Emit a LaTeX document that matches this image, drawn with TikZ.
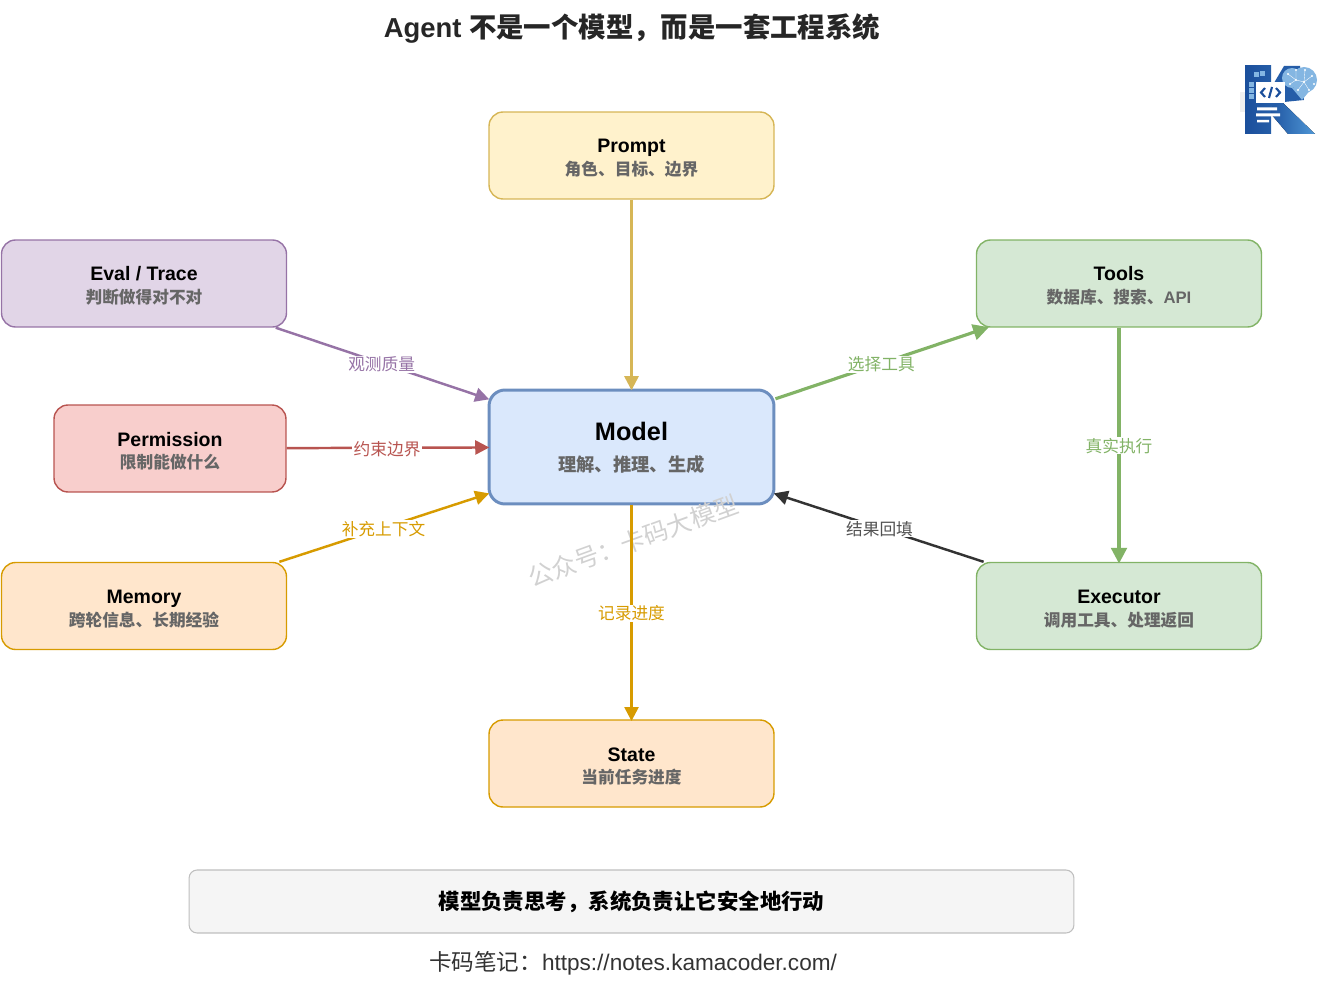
\documentclass[tikz,border=0pt]{standalone}
\usepackage{fontspec}
\setmainfont{Liberation Sans}
\newfontfamily\cjk{Noto Sans CJK SC}
\usetikzlibrary{arrows.meta}

\definecolor{bluefill}{HTML}{DAE8FC}
\definecolor{blueline}{HTML}{6C8EBF}
\definecolor{yellowfill}{HTML}{FFF2CC}
\definecolor{yellowline}{HTML}{D6B656}
\definecolor{greenfill}{HTML}{D5E8D4}
\definecolor{greenline}{HTML}{82B366}
\definecolor{purplefill}{HTML}{E1D5E7}
\definecolor{purpleline}{HTML}{9673A6}
\definecolor{redfill}{HTML}{F8CECC}
\definecolor{redline}{HTML}{B85450}
\definecolor{orangefill}{HTML}{FFE6CC}
\definecolor{orangeline}{HTML}{D79B00}
\definecolor{subtext}{HTML}{666666}
\definecolor{darkline}{HTML}{333333}
\definecolor{logodark}{HTML}{1B4F9C}
\definecolor{logolight}{HTML}{4F97D6}

\newcommand{\boxtext}[2]{{\fontsize{11.1}{13.6}\selectfont\bfseries\rule{0pt}{11pt}#1}\\[0.9pt]{\fontsize{9.5}{13.6}\selectfont\bfseries\color{subtext}#2}}

\tikzset{
  box/.style={draw, rounded corners=0.28cm, line width=0.8pt, minimum width=5.7cm, minimum height=1.74cm, align=center, inner sep=0pt},
  conn/.style={line width=1.4pt, -{Triangle[length=8pt,width=8pt]}, shorten >=-1pt},
  wide/.style={line width=1.8pt, -{Triangle[length=9pt,width=9pt]}, shorten >=-1pt},
  lab/.style={fill=white, inner xsep=1pt, inner ysep=0.5pt, yshift=-0.6pt, font=\fontsize{9.5}{11}\selectfont\cjk},
}

\begin{document}
\begin{tikzpicture}[x=0.02cm,y=-0.02cm]
\useasboundingbox (0,0) rectangle (1338,983);

\node[font=\fontsize{15.6}{18}\selectfont\bfseries, text=black!85] (title) at (632,28.5) {Agent {\cjk 不是一个模型，而是一套工程系统}};

\node[box, line width=1.7pt, minimum height=2.28cm, fill=bluefill, draw=blueline, rounded corners=0.32cm] (model) at (631.5,447)
  {{\fontsize{14.4}{19}\selectfont\bfseries\rule{0pt}{11.5pt}Model}\\[5.5pt]{\fontsize{10.4}{13}\selectfont\bfseries\cjk\color{subtext}理解、推理、生成}};
\node[box, fill=yellowfill, draw=yellowline] (prompt) at (631.5,155.5) {\boxtext{Prompt}{\cjk 角色、目标、边界}};
\node[box, fill=purplefill, draw=purpleline] (eval) at (144,283.5) {\boxtext{Eval / Trace}{\cjk 判断做得对不对}};
\node[box, minimum width=4.64cm, fill=redfill, draw=redline] (perm) at (170,448.5) {\boxtext{Permission}{\cjk 限制能做什么}};
\node[box, fill=orangefill, draw=orangeline] (memory) at (144,606) {\boxtext{Memory}{\cjk 跨轮信息、长期经验}};
\node[box, fill=greenfill, draw=greenline] (tools) at (1119,283.5) {\boxtext{Tools}{{\cjk 数据库、搜索、}API}};
\node[box, fill=greenfill, draw=greenline] (exec) at (1119,606) {\boxtext{Executor}{\cjk 调用工具、处理返回}};
\node[box, fill=orangefill, draw=orangeline] (state) at (631.5,763.5) {\boxtext{State}{\cjk 当前任务进度}};

% watermark sits over the box, under the arrows
\node[rotate=20, text=black!18, font=\fontsize{14}{16}\selectfont\cjk] (mark) at (633,541) {公众号：卡码大模型};

\draw[conn, draw=yellowline] (prompt) -- (model);
\draw[conn, draw=purpleline] (eval) -- node[lab, text=purpleline] (evallab) {观测质量} (model);
\draw[conn, draw=redline] (perm) -- node[lab, text=redline] (permlab) {约束边界} (model);
\draw[conn, draw=orangeline] (memory) -- node[lab, text=orangeline] (memlab) {补充上下文} (model);
\draw[wide, draw=greenline] (model) -- node[lab, text=greenline] (selectlab) {选择工具} (tools);
\draw[wide, draw=greenline] (tools) -- node[lab, text=greenline] (runlab) {真实执行} (exec);
\draw[conn, draw=darkline] (exec) -- node[lab, text=darkline!85] (backlab) {结果回填} (model);
\draw[conn, draw=orangeline] (model) -- node[lab, text=orangeline] (statelab) {记录进度} (state);

\node[draw=black!25, fill=black!4, rounded corners=0.16cm, line width=0.6pt, minimum width=17.7cm, minimum height=1.26cm, font=\fontsize{12.2}{14}\selectfont\bfseries\cjk] (bar) at (631.5,901.5) {模型负责思考，系统负责让它安全地行动};
\node[text=black!80, font=\fontsize{12.85}{15}\selectfont] (foot) at (633,963.5) {{\cjk 卡码笔记：}https://notes.kamacoder.com/};

% logo
\fill[black!6] (1240,92) rectangle (1245,112);
\fill[left color=logodark, right color=logodark!80!logolight] (1245,66) rectangle (1271,134);
\fill[left color=logodark!90!logolight, right color=logolight] (1271,107) -- (1281,101) -- (1315,134) -- (1288,134) -- (1271,114) -- cycle;
\fill[logodark!80!logolight] (1271,88) -- (1284,66) -- (1300,66) -- (1304,100) -- (1284,102) -- (1271,107) -- cycle;
\fill[logolight!70] (1292,78) circle (10);
\fill[logolight!70] (1304,80) circle (13);
\fill[logolight!70] (1292,88) -- (1302,100) -- (1312,88) -- cycle;
\foreach \px/\py in {1288/74,1296/70,1305/70,1312/76,1314/84,1296/80,1304/82,1309/90,1298/90,1290/84}
  \fill[white] (\px,\py) circle (1.2);
\draw[white, line width=0.2pt] (1288,74) -- (1296,80) -- (1304,82) -- (1312,76) (1296,70) -- (1296,80) -- (1290,84) (1304,82) -- (1309,90) (1304,82) -- (1298,90) (1305,70) -- (1304,82);
\foreach \px/\py in {1254/72,1260/71,1249/82,1249/88,1249/94}
  \fill[logolight!70] (\px,\py) rectangle ++(5,5);
\fill[white] (1256,82) rectangle (1285,103);
\draw[logodark, line width=1.2pt] (1265,88) -- (1261,92.5) -- (1265,97) (1276,88) -- (1280,92.5) -- (1276,97) (1272,87) -- (1269,98);
\fill[white] (1257,107.5) rectangle (1277,110.5) (1256,113.5) rectangle (1280,116.5) (1257,120) rectangle (1269,122.5);

\end{tikzpicture}
\end{document}
